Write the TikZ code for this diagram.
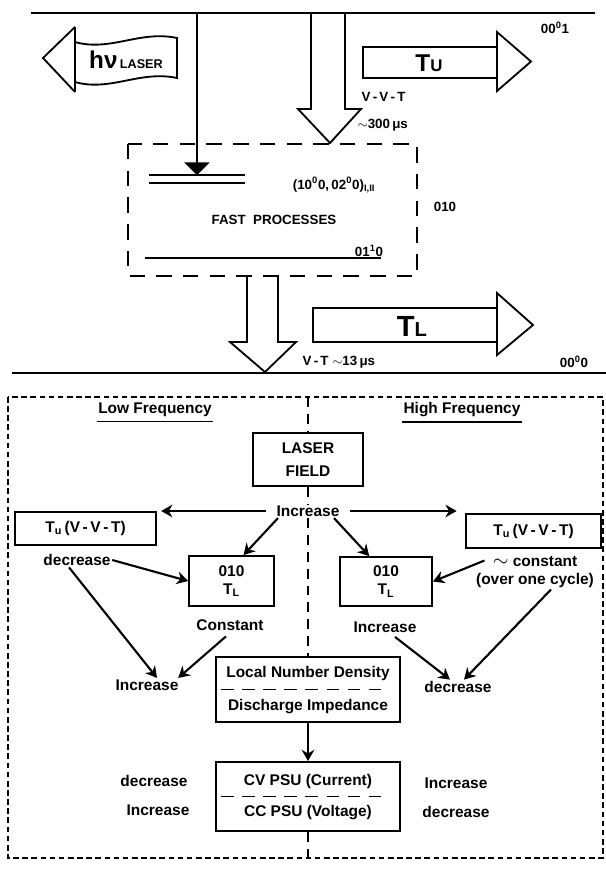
\documentclass[tikz,border=0pt]{standalone}
\usepackage{fontspec}
\setmainfont{Liberation Sans}
\usetikzlibrary{arrows.meta}

\tikzset{
    lbl/.style={font=\fontsize{11}{13}\selectfont\bfseries, inner sep=1pt},
    toplbl/.style={font=\fontsize{9.5}{11}\selectfont\bfseries, inner sep=1pt},
    ruled/.style={draw, line width=1.3pt, inner sep=0pt},
    flow/.style={-{Stealth[length=8pt,width=9pt]}, line width=1.5pt},
    vibline/.style={line width=1.2pt},
    blockarrow/.style={line width=1.3pt, line join=miter},
    midline/.style={line width=1.5pt, dash pattern=on 7pt off 5pt},
    outerframe/.style={line width=1.4pt, dash pattern=on 4pt off 2.5pt},
    fastbox/.style={line width=1.3pt, dash pattern=on 11pt off 8pt},
    sepline/.style={line width=1.4pt, dash pattern=on 9pt off 6pt},
}

\begin{document}
\begin{tikzpicture}[x=0.025cm, y=-0.025cm]
    \useasboundingbox (0,0) rectangle (606,870);

    % Energy levels
    \draw[vibline] (31,13) -- (595,13);
    \draw[vibline] (12,373) -- (606,373);
    \node[toplbl] (lvl001) at (555,28) {00\textsuperscript{0}1};
    \node[toplbl] (lvl000) at (574,362) {00\textsuperscript{0}0};

    % Laser output
    \draw[blockarrow] (75,27) -- (43,58) -- (75,92);
    \draw[line width=1.6pt] (75,27) -- (75,92);
    \draw[blockarrow] (75,42) .. controls (110,52) and (140,30) .. (177,38) -- (177,78)
        .. controls (140,70) and (110,92) .. (75,82);
    \node[font=\bfseries, inner sep=0pt] (laser) at (126,60) {{\LARGE hν}\,{\small LASER}};

    % Fast processes
    \draw[fastbox] (128,144) rectangle (417,276);
    \draw[vibline] (149,175) -- (245,175);
    \draw[vibline] (149,183) -- (245,183);
    \draw[vibline] (145,258) -- (381,258);
    \coordinate (pump) at (197,13);
    \coordinate (upper) at (197,175);
    \draw[line width=1pt, -{Triangle[length=9pt,width=18pt]}] (pump) -- (upper);
    \node[toplbl] (mix) at (334,185) {(10\textsuperscript{0}0,\,02\textsuperscript{0}0)\textsubscript{I,II}};
    \node[toplbl] (lvl010) at (445,207) {010};
    \node[toplbl] (fast) at (274,220) {FAST\ \ PROCESSES};
    \node[toplbl] (lvl0110) at (369,251) {01\textsuperscript{1}0};

    % V-V-T transfer
    \draw[blockarrow] (311,13) -- (311,109) -- (298,109) -- (330,143) -- (361,109) -- (345,109) -- (345,13);
    \node[toplbl, anchor=west] (vvt) at (360,97) {V\,-\,V\,-\,T};
    \node[toplbl, anchor=west] (vvttime) at (356,125) {$\sim$300\,μs};

    % Upper temperature
    \draw[blockarrow] (497,47) -- (363,47) -- (363,78) -- (497,78);
    \draw[blockarrow] (497,32) -- (531,61.5) -- (497,91) -- cycle;
    \node[font=\bfseries] (tu) at (429,63) {{\LARGE T}{\large U}};

    % V-T relaxation
    \draw[blockarrow] (247,276) -- (247,342) -- (230,342) -- (265,372) -- (296,342) -- (278,342) -- (278,276);
    \node[toplbl, anchor=west] (vt) at (301,362) {V\,-\,T $\sim$13\,μs};

    % Lower temperature
    \draw[blockarrow] (497,308) -- (313,308) -- (313,342) -- (497,342);
    \draw[blockarrow] (497,293) -- (533,325) -- (497,355) -- cycle;
    \node[font=\bfseries] (tl) at (412,326) {{\huge T}{\Large L}};

    % Frequency regimes
    \draw[outerframe] (8,397) rectangle (603,858);
    \coordinate (ctop) at (308,397);
    \coordinate (cbot) at (308,858);
    \node[lbl] (lowf) at (155,410) {Low Frequency};
    \node[lbl] (highf) at (462,410) {High Frequency};
    \draw[line width=1.3pt] ([yshift=-2pt]lowf.south west) -- ([yshift=-2pt]lowf.south east);
    \draw[line width=1.3pt] ([yshift=-2pt]highf.south west) -- ([yshift=-2pt]highf.south east);

    % Laser field and its effects
    \node[ruled, lbl, inner sep=0pt, minimum width=2.75cm, minimum height=1.325cm, align=center] (field) at (308,459.5) {LASER\\[3pt]FIELD};
    \node[lbl] (inc) at (308,511) {Increase};
    \node[ruled, lbl, inner sep=0pt, minimum width=3.525cm, minimum height=0.825cm] (tul) at (85.5,528.5) {T\textsubscript{u}\,(V\,-\,V\,-\,T)};
    \node[ruled, lbl, inner sep=0pt, minimum width=3.375cm, minimum height=0.85cm] (tur) at (533.5,531) {T\textsubscript{u}\,(V\,-\,V\,-\,T)};
    \node[ruled, lbl, inner sep=0pt, minimum width=2.125cm, minimum height=1.25cm, align=center] (tll) at (231.5,581) {010\\T\textsubscript{L}};
    \node[ruled, lbl, inner sep=0pt, minimum width=2.3cm, minimum height=1.225cm, align=center] (tlr) at (386,581.5) {010\\T\textsubscript{L}};
    \node[lbl] (decl) at (77,560) {decrease};
    \node[lbl, align=center] (cst) at (535,572) {{\Large$\sim$} constant\\(over one cycle)};
    \node[lbl] (const) at (230,625) {Constant};
    \node[lbl] (incr) at (385,627) {Increase};
    \node[lbl] (incl) at (147,685) {Increase};
    \node[lbl] (decr) at (458,687) {decrease};

    % Discharge and power supply
    \node[ruled, minimum width=4.6cm, minimum height=1.625cm] (dens) at (308,689.5) {};
    \node[lbl] (densa) at (308,673) {Local Number Density};
    \node[lbl] (densb) at (308,707) {Discharge Impedance};
    \draw[sepline] ([xshift=0.15cm]dens.west) -- ([xshift=-0.3cm]dens.east);
    \node[ruled, minimum width=4.6cm, minimum height=1.725cm] (psu) at (308,796.5) {};
    \node[lbl] (psua) at (308,781) {CV PSU (Current)};
    \node[lbl] (psub) at (308,813) {CC PSU (Voltage)};
    \draw[sepline] ([xshift=0.15cm]psu.west) -- ([xshift=-0.3cm]psu.east);
    \node[lbl] (cvl) at (154,781) {decrease};
    \node[lbl] (ccl) at (158,810) {Increase};
    \node[lbl] (cvr) at (456,783) {Increase};
    \node[lbl] (ccr) at (456,812) {decrease};

    % Centre line
    \draw[midline] (ctop) -- (field.north);
    \draw[midline] (field.south) -- (inc.north);
    \draw[midline] (inc.south) -- (dens.north);
    \draw[midline] (psu.south) -- (cbot);

    % Arrows
    \draw[flow, shorten <=6pt, shorten >=3pt] (inc.west) -- (inc.west -| tul.east);
    \draw[flow, shorten <=6pt, shorten >=6pt] (inc.east) -- (inc.east -| tur.west);
    \draw[flow] ([xshift=-0.75cm]inc.south) -- ([xshift=0.3cm]tll.north);
    \draw[flow] ([xshift=0.65cm]inc.south) -- ([xshift=-0.42cm]tlr.north);
    \draw[flow] (decl.east) -- (tll.west);
    \draw[flow] ([xshift=-0.2cm]decl.south) -- ([xshift=0.25cm]incl.north);
    \draw[flow] ([xshift=-0.1cm, yshift=-3pt]const.south) -- ([xshift=0.78cm]incl.north);
    \draw[flow] ([xshift=0.25cm, yshift=-2pt]incr.south) -- ([xshift=-0.2cm]decr.north);
    \draw[flow] ([shift={(0.25cm,-0.15cm)}]cst.north west) -- (tlr.east);
    \draw[flow] ([xshift=0.4cm]cst.south) -- ([xshift=0.15cm]decr.north);
    \draw[flow] (dens) -- (psu);
\end{tikzpicture}
\end{document}
